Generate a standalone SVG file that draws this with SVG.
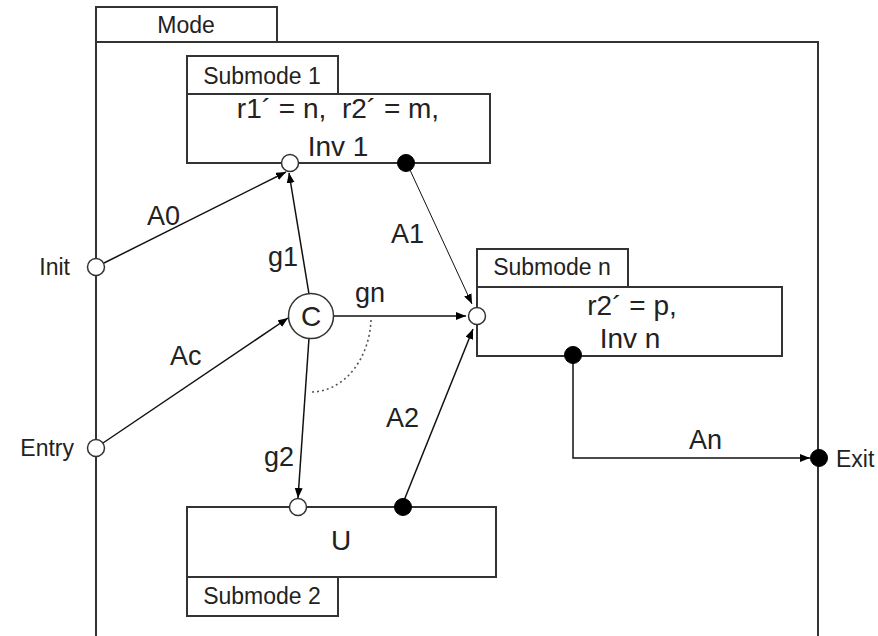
<svg xmlns="http://www.w3.org/2000/svg" width="878" height="636" viewBox="0 0 878 636">
<style>
  .frame{fill:none;stroke:#333;stroke-width:2}
  .box{fill:#fff;stroke:#333;stroke-width:2}
  .conn{fill:none;stroke:#111;stroke-width:1.5}
  .thin{fill:none;stroke:#111;stroke-width:1}
  .open{fill:#fff;stroke:#333;stroke-width:1.5}
  .full{fill:#000;stroke:#000;stroke-width:1}
  .t{font-family:"Liberation Sans",Arial,sans-serif;fill:#222}
  .s{font-size:23px}
  .b{font-size:27px}
  .c{font-size:28px}
  .m{text-anchor:middle}
  .e{text-anchor:end}
</style>
<defs>
  <marker id="arr" markerUnits="userSpaceOnUse" markerWidth="11" markerHeight="9" refX="10" refY="4" orient="auto">
    <path d="M0,0 L10,4 L0,8 z" fill="#000"/>
  </marker>
</defs>
<rect width="878" height="636" fill="#fff"/>

<g id="mode">
  <path class="frame" d="M96,636 V42 H818 V636"/>
  <rect class="box" x="96" y="7" width="181" height="35"/>
  <text class="t s m" x="186" y="33">Mode</text>
</g>

<g id="connectors">
  <line class="conn" x1="104" y1="263" x2="286" y2="172" marker-end="url(#arr)"/>
  <line class="conn" x1="309" y1="294" x2="289" y2="173" marker-end="url(#arr)"/>
  <line class="conn" x1="103" y1="443" x2="288" y2="318" marker-end="url(#arr)"/>
  <line class="conn" x1="334" y1="316" x2="466" y2="316" marker-end="url(#arr)"/>
  <line class="conn" x1="309" y1="338" x2="298" y2="498" marker-end="url(#arr)"/>
  <line class="thin" x1="410" y1="170" x2="472" y2="304" marker-end="url(#arr)"/>
  <line class="conn" x1="403" y1="503" x2="473" y2="329" marker-end="url(#arr)"/>
  <path class="conn" d="M573,355 V458 H810" marker-end="url(#arr)"/>
  <path d="M371,320 A60,76 0 0 1 311,392" fill="none" stroke="#555" stroke-width="1.6" stroke-dasharray="2,3"/>
  <text class="t b" x="147" y="225">A0</text>
  <text class="t b" x="268" y="266">g1</text>
  <text class="t b" x="170" y="365">Ac</text>
  <text class="t b" x="355" y="302">gn</text>
  <text class="t b" x="264" y="466">g2</text>
  <text class="t b" x="391" y="243">A1</text>
  <text class="t b" x="386" y="427">A2</text>
  <text class="t b" x="689" y="449">An</text>
</g>

<g id="submode1">
  <rect class="box" x="187" y="56" width="151" height="38"/>
  <text class="t s m" x="262" y="84">Submode 1</text>
  <rect class="box" x="187" y="94" width="303" height="69"/>
  <text class="t c m" x="338" y="118">r1´ = n, &#160;r2´ = m,</text>
  <text class="t c m" x="338" y="156">Inv 1</text>
  <circle class="open" cx="290" cy="163" r="8.5"/>
  <circle class="full" cx="406" cy="163" r="8.5"/>
</g>

<g id="submoden">
  <rect class="box" x="477" y="249" width="151" height="38"/>
  <text class="t s m" x="552" y="275">Submode n</text>
  <rect class="box" x="477" y="287" width="305" height="69"/>
  <text class="t c m" x="632" y="315">r2´ = p,</text>
  <text class="t c m" x="630" y="348">Inv n</text>
  <circle class="open" cx="477" cy="316" r="8.5"/>
  <circle class="full" cx="573" cy="355" r="8.5"/>
</g>

<g id="submode2">
  <rect class="box" x="187" y="507" width="309" height="70"/>
  <text class="t c m" x="341" y="550">U</text>
  <rect class="box" x="187" y="577" width="151" height="39"/>
  <text class="t s m" x="262" y="604">Submode 2</text>
  <circle class="open" cx="298" cy="507" r="8.5"/>
  <circle class="full" cx="403" cy="507" r="8.5"/>
</g>

<g id="choice">
  <circle class="open" cx="311" cy="316" r="22.5"/>
  <text class="t c m" x="311" y="326">C</text>
</g>

<g id="init">
  <circle class="open" cx="96" cy="267" r="8.5"/>
  <text class="t s e" x="70" y="275">Init</text>
</g>
<g id="entry">
  <circle class="open" cx="96" cy="448" r="8.5"/>
  <text class="t s e" x="74" y="456">Entry</text>
</g>
<g id="exit">
  <circle class="full" cx="819" cy="458" r="8.5"/>
  <text class="t s" x="836" y="467">Exit</text>
</g>
</svg>
